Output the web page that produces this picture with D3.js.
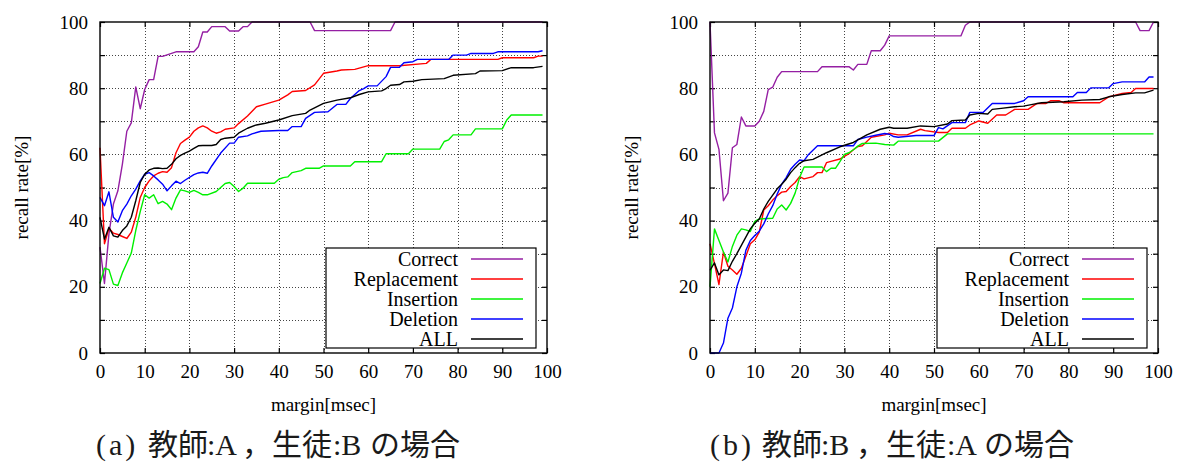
<!DOCTYPE html>
<html>
<head>
<meta charset="utf-8">
<script src="https://cdn.jsdelivr.net/npm/d3@7"></script>
<style>
  html, body { margin: 0; padding: 0; background: #fff; }
  svg { display: block; }
</style>
</head>
<body>
<svg id="chart" width="1178" height="466"></svg>
<script>
// ---- data: recall rate [%] against margin [msec], as [margin, rate] vertices ----
const seriesNames = ["Correct", "Replacement", "Insertion", "Deletion", "ALL"];
const seriesColors = ["#951fa3", "#ff0000", "#00f000", "#0000ff", "#000000"];
const xTicks = [0, 10, 20, 30, 40, 50, 60, 70, 80, 90, 100];
const yTicks = [0, 10, 20, 30, 40, 50, 60, 70, 80, 90, 100];
const yLabelTicks = [0, 20, 40, 60, 80, 100];

// (a) teacher A, student B
const correctA = [[0,32],[1,21],[2,36],[3,45],[4,49],[5,57],[6,67],[7,69.5],[8,80.4],[9,73.8],[10,79.6],[11,82.6],[12,82.6],[13,89.6],[14,89.6],[17,91],[21,91],[22,92.5],[23,97],[24,97],[25,98.6],[28,98.6],[29,97.3],[31,97.3],[32,98.6],[33,98.6],[34,100],[47,100],[48,97.4],[65,97.4],[66,100],[99,100]];
const replaceA = [[0,62],[1,33],[2,37.7],[3,36.2],[4,35.8],[5,35.2],[6,34.6],[7,36.5],[8,41],[9,47],[10,50],[11,52],[12,53.5],[13,54.3],[14,54.8],[15,54.6],[16,56],[17,60.5],[18,63.3],[19,64.3],[20,65.2],[21,67],[22,68],[23,68.6],[24,68],[25,67],[26,66.4],[27,66.8],[28,67.6],[30,68],[31,69.3],[33,71.6],[35,74.4],[37,75.2],[40,76.4],[42,78],[43,79],[46,79.3],[48,81],[50,84.5],[53,85.2],[54,85.5],[57,85.7],[60,86.8],[67,86.8],[73,87.5],[74,88.7],[89,88.7],[90,89.2],[97,89.2],[98,89.7],[99,89.7]];
const insertA = [[0,21],[1,25.6],[2,25.2],[3,20.8],[4,20.4],[5,24.2],[6,27.2],[7,30.2],[8,37],[9,42.7],[10,47.8],[11,46.8],[12,47.8],[13,45.1],[14,45.8],[15,45],[16,43.3],[17,46.8],[18,49.3],[19,49],[20,48.5],[21,49.1],[22,48.5],[23,47.8],[24,47.8],[26,48.8],[27,50],[28,51.2],[29,51.5],[30,50.3],[31,48.8],[32,49.8],[33,51.3],[39,51.3],[40,52.5],[41,53],[42,53.2],[43,54.5],[45,55.1],[46,55.8],[49,55.8],[50,56.5],[56,56.5],[57,57.8],[63,57.8],[64,60.2],[69,60.2],[70,61.6],[76,61.6],[77,63.9],[78,64.4],[79,65.9],[83,65.9],[84,67.7],[90,67.7],[91,70.4],[92,71.9],[99,71.9]];
const deleteA = [[0,47],[1,44.5],[2,48.7],[3,41],[4,39.6],[5,43],[6,45],[7,47.5],[8,49.5],[9,52],[10,54],[11,54.5],[12,53.5],[13,52.3],[14,51],[15,49],[16,50.5],[17,51.9],[18,51.2],[19,52.2],[21,53.9],[22,54.4],[23,54.6],[24,54.3],[25,56.5],[27,60.4],[29,63.4],[30,63.4],[31,65.2],[33,65.6],[34,66.2],[36,67],[40,67.2],[42,67.2],[43,68.4],[45,68.4],[46,70.9],[48,72.7],[51,72.9],[53,75.1],[55,75.1],[56,76.9],[58,79.3],[59,79.9],[60,80.7],[62,80.7],[64,83.5],[65,86.3],[67,86.3],[68,87.7],[70,88],[71,88.7],[78,88.7],[79,90],[82,90],[83,90.5],[88,90.5],[89,91],[98,91],[99,91.3]];
const allA = [[0,41],[1,34.4],[2,38],[3,35.4],[4,35],[5,37],[6,38.4],[7,41],[8,46],[9,51.5],[10,54],[11,55.3],[12,55.8],[13,55.9],[14,55.7],[15,55.8],[16,57],[17,58.7],[18,59.7],[19,60.4],[20,61],[21,61.8],[22,62.6],[23,62.7],[25,62.7],[26,63],[27,64.5],[28,64.9],[30,65.2],[31,66.4],[33,67.9],[35,68.9],[37,69.4],[40,70.4],[43,71.7],[46,72.4],[47,73.4],[50,75.4],[53,76.4],[56,77.1],[58,78.1],[60,78.9],[63,79.2],[64,79.9],[65,80.9],[67,81.1],[68,81.9],[70,82.1],[72,82.6],[77,82.9],[79,83.9],[84,84.4],[85,85.2],[90,85.3],[92,86.2],[97,86.2],[99,86.6]];

// (b) teacher B, student A
const correctB = [[0,100],[1,66.5],[2,61.5],[3,46],[4,48.3],[5,62],[6,63],[7,71.3],[8,68.6],[10,68.6],[11,70],[12,73],[13,79.6],[14,80.3],[15,83.3],[16,85],[24,85],[25,86.5],[31,86.5],[32,85.5],[33,87.2],[35,87.2],[36,91.3],[38,91.3],[39,93],[40,95.8],[56,95.8],[57,99],[58,100],[95,100],[96,97.4],[98,97.4],[99,100]];
const replaceB = [[0,33],[1,27],[2,20.7],[3,30.5],[4,26.2],[5,25.1],[6,23.8],[7,25.6],[8,29.2],[9,33],[10,34.2],[11,36.5],[12,43.2],[13,44.5],[14,46.2],[15,47.5],[16,48.6],[17,48.8],[18,50.3],[19,51.5],[20,53.3],[21,52.6],[23,53.3],[24,54.5],[25,54.5],[26,57.5],[27,57.9],[29,58.6],[30,59.4],[31,60.2],[32,61.4],[33,62.4],[34,62.6],[35,63.9],[36,65.2],[39,65.9],[40,66.4],[42,65.9],[44,65.9],[47,67.6],[48,67.2],[51,66.6],[53,66.6],[54,67.9],[57,67.9],[58,68.9],[60,70.1],[62,69.4],[64,71.9],[66,71.9],[68,73.6],[71,73.6],[73,75.4],[75,75.4],[76,76.2],[78,76.2],[79,75.6],[87,75.6],[89,77.4],[92,78.4],[94,78.7],[95,79.9],[99,79.9]];
const insertB = [[0,20],[1,37.5],[2,34],[3,30.5],[4,27.5],[5,32.2],[6,35.6],[7,37.5],[8,37.2],[9,36.7],[10,39.8],[11,40.5],[14,40.7],[15,43.5],[16,44.7],[17,43.2],[18,45.2],[19,48.3],[20,53],[21,56.2],[25,56.2],[26,54.8],[27,55.8],[28,55.8],[29,57.8],[30,60],[31,60.5],[32,61.4],[33,62.5],[34,63.3],[37,63.4],[39,63],[41,62.8],[42,64],[51,64],[53,66.2],[99,66.2]];
const deleteB = [[0,0],[2,0],[3,3],[4,10.5],[5,13.6],[6,20],[7,24.1],[8,31],[9,34],[10,35.5],[11,36.8],[12,39],[13,42],[14,44.5],[15,48],[16,51],[17,53],[18,55.5],[19,57],[20,58.3],[21,58.1],[22,60],[24,62.6],[32,62.6],[33,64.5],[35,65.2],[37,65.8],[39,66.3],[40,66.1],[41,65.4],[42,65.2],[46,65.7],[50,65.7],[51,68.1],[52,67.7],[54,69.6],[57,69.6],[58,72.7],[61,72.7],[63,75.4],[68,75.4],[70,76.2],[71,77.4],[81,77.4],[82,78.7],[84,78.7],[85,80.1],[89,80.1],[90,81.4],[92,81.9],[97,81.9],[98,83.4],[99,83.4]];
const allB = [[0,25],[1,27.2],[2,23.6],[3,25.1],[4,24.9],[5,27.7],[6,30],[7,32.5],[8,35],[9,37.5],[10,39.2],[11,40.5],[12,43.5],[13,45.8],[14,47.7],[15,49.6],[16,51],[17,52.5],[18,54.5],[19,56],[20,57.3],[21,58.1],[23,58.5],[26,60.5],[29,62.3],[32,63.6],[35,65.9],[38,67.6],[40,68.2],[41,67.9],[44,67.9],[47,68.6],[50,68.4],[53,69.2],[54,70.2],[57,70.4],[58,71.9],[60,72.4],[62,72.2],[63,73.6],[65,73.9],[68,74.4],[70,74.6],[72,75.1],[74,75.6],[79,75.9],[83,76.4],[87,76.6],[89,77.4],[92,78.1],[95,78.6],[97,78.6],[99,79.4]];

const xTitle = "margin[msec]";
const yTitle = "recall rate[%]";
// caption pieces: font kind ("s" serif / "j" Japanese), text
const captionA = [["s","(a)"],["j","教師"],["s",":A"],["j","，生徒"],["s",":B"],["j","の場合"]];
const captionB = [["s","(b)"],["j","教師"],["s",":B"],["j","，生徒"],["s",":A"],["j","の場合"]];

// ---- drawing ----
const SERIF = '"Liberation Serif","Times New Roman",serif';
const CJK = '"Noto Sans CJK JP","Noto Sans CJK SC",sans-serif';
const svg = d3.select("#chart");
// horizontal start of each caption piece, relative to the caption's left edge
const captionOffsets = [0, 52, 111, 146, 237, 274];

const panels = [
  { left: 100, right: 547, top: 22, bottom: 353, data: [correctA, replaceA, insertA, deleteA, allA], caption: captionA, capX: 96 },
  { left: 710, right: 1158, top: 22, bottom: 353, data: [correctB, replaceB, insertB, deleteB, allB], caption: captionB, capX: 710 }
];

panels.forEach(p => {
  const x = d3.scaleLinear().domain([0, 100]).range([p.left, p.right]);
  const y = d3.scaleLinear().domain([0, 100]).range([p.bottom, p.top]);
  const g = svg.append("g");

  // dotted grid
  const grid = g.append("g").attr("stroke", "#444").attr("stroke-width", 1)
    .attr("stroke-dasharray", "1,2").attr("shape-rendering", "crispEdges");
  grid.selectAll("line.gx").data(xTicks.slice(1, -1)).join("line")
    .attr("x1", d => Math.round(x(d)) + 0.5).attr("x2", d => Math.round(x(d)) + 0.5)
    .attr("y1", p.top).attr("y2", p.bottom);
  grid.selectAll("line.gy").data(yTicks.slice(1, -1)).join("line")
    .attr("y1", d => Math.round(y(d)) + 0.5).attr("y2", d => Math.round(y(d)) + 0.5)
    .attr("x1", p.left).attr("x2", p.right);

  // axes: ticks point inward on all four sides
  const fmtY = d => (yLabelTicks.includes(d) ? String(d) : "");
  const styleAxis = sel => {
    sel.select(".domain").remove();
    sel.selectAll(".tick line").attr("stroke", "#000").attr("stroke-width", 1.2);
    sel.selectAll(".tick text").attr("font-family", SERIF).attr("font-size", 19).attr("fill", "#000");
  };
  g.append("g").attr("transform", `translate(0,${p.bottom})`)
    .call(d3.axisBottom(x).tickValues(xTicks).tickSize(-5).tickPadding(12)).call(styleAxis);
  g.append("g").attr("transform", `translate(0,${p.top})`)
    .call(d3.axisTop(x).tickValues(xTicks).tickSize(-5).tickFormat("")).call(styleAxis);
  g.append("g").attr("transform", `translate(${p.left},0)`)
    .call(d3.axisLeft(y).tickValues(yTicks).tickSize(-5).tickPadding(12).tickFormat(fmtY)).call(styleAxis);
  g.append("g").attr("transform", `translate(${p.right},0)`)
    .call(d3.axisRight(y).tickValues(yTicks).tickSize(-5).tickFormat("")).call(styleAxis);

  // series lines
  const line = d3.line().x(d => x(d[0])).y(d => y(d[1]));
  p.data.forEach((s, i) => {
    g.append("path").datum(s).attr("d", line).attr("fill", "none")
      .attr("stroke", seriesColors[i]).attr("stroke-width", 1.4).attr("stroke-linejoin", "round");
  });

  // frame
  g.append("rect").attr("x", p.left).attr("y", p.top)
    .attr("width", p.right - p.left).attr("height", p.bottom - p.top)
    .attr("fill", "none").attr("stroke", "#000").attr("stroke-width", 1.4);

  // legend
  const lx = p.right - 221, ly = 248;
  const leg = g.append("g");
  leg.append("rect").attr("x", lx).attr("y", ly).attr("width", 210).attr("height", 100)
    .attr("fill", "#fff").attr("stroke", "#000").attr("stroke-width", 1.2);
  seriesNames.forEach((name, i) => {
    const cy = ly + 11 + i * 20;
    leg.append("text").attr("x", lx + 132).attr("y", cy + 7).attr("text-anchor", "end")
      .attr("font-family", SERIF).attr("font-size", 20).text(name);
    leg.append("line").attr("x1", lx + 145).attr("x2", lx + 197).attr("y1", cy).attr("y2", cy)
      .attr("stroke", seriesColors[i]).attr("stroke-width", 1.3);
  });

  // axis titles
  g.append("text").attr("x", (p.left + p.right) / 2).attr("y", 411).attr("text-anchor", "middle")
    .attr("font-family", SERIF).attr("font-size", 19).text(xTitle);
  g.append("text").attr("transform", `translate(${p.left - 72},${(p.top + p.bottom) / 2}) rotate(-90)`)
    .attr("text-anchor", "middle").attr("font-family", SERIF).attr("font-size", 19).text(yTitle);

  // caption, pieces placed one after another
  const cap = svg.append("text").attr("y", 455).attr("font-size", 30).attr("fill", "#1a1a1a");
  p.caption.forEach(([kind, t], i) => {
    const ts = cap.append("tspan").attr("x", p.capX + captionOffsets[i])
      .attr("font-family", kind === "s" ? SERIF : CJK).text(t);
    if (i === 0) ts.attr("letter-spacing", 3);
  });
});
</script>
</body>
</html>
